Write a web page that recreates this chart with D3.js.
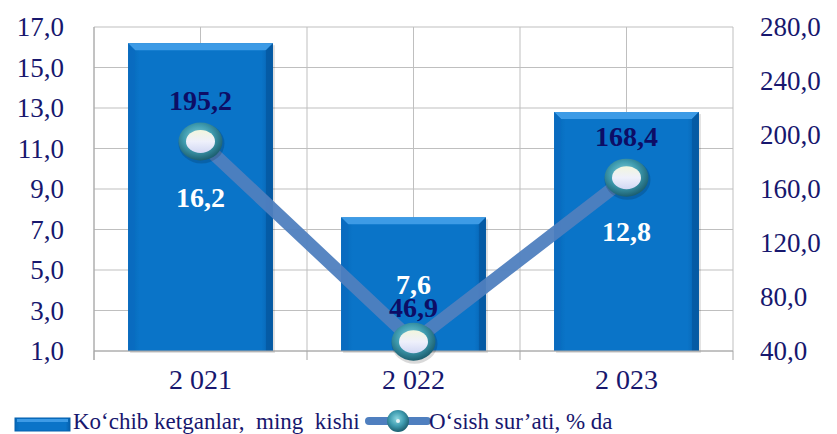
<!DOCTYPE html>
<html><head><meta charset="utf-8">
<script src="https://cdn.jsdelivr.net/npm/d3@7"></script>
<style>html,body{margin:0;padding:0;background:#fff;} svg{display:block;}</style>
</head><body>
<svg id="chart" width="837" height="434"></svg>
<script>
const categories = ["2 021", "2 022", "2 023"];
const barValues = [16.2, 7.6, 12.8];
const lineValues = [195.2, 46.9, 168.4];
const leftTicks = [1, 3, 5, 7, 9, 11, 13, 15, 17];
const rightTicks = [40, 80, 120, 160, 200, 240, 280];
const barSeriesName = "Ko‘chib ketganlar,  ming  kishi";
const lineSeriesName = "O‘sish sur’ati, % da";

const fmt = v => d3.format(".1f")(v).replace(".", ",");
const svg = d3.select("#chart");
const m = {left: 94, right: 733, top: 27, bottom: 351};
const x = d3.scaleBand().domain(categories).range([m.left, m.right]).paddingInner(0).paddingOuter(0);
const yL = d3.scaleLinear().domain([1, 17]).range([m.bottom, m.top]);
const yR = d3.scaleLinear().domain([40, 280]).range([m.bottom, m.top]);
const navy = "#17176e";
const serif = "'Liberation Serif','Times New Roman',serif";

const defs = svg.append("defs");
const bg = defs.append("linearGradient").attr("id", "barG").attr("x1", 0).attr("x2", 1).attr("y1", 0).attr("y2", 0);
bg.append("stop").attr("offset", 0).attr("stop-color", "#0668b8");
bg.append("stop").attr("offset", 0.08).attr("stop-color", "#0a74c8");
bg.append("stop").attr("offset", 0.92).attr("stop-color", "#0a74c8");
bg.append("stop").attr("offset", 1).attr("stop-color", "#0660ad");
const mg = defs.append("radialGradient").attr("id", "markG").attr("cx", 0.45).attr("cy", 0.4).attr("r", 0.6);
mg.append("stop").attr("offset", 0).attr("stop-color", "#8ad6e0");
mg.append("stop").attr("offset", 0.55).attr("stop-color", "#3f9cb0");
mg.append("stop").attr("offset", 1).attr("stop-color", "#1c5f70");
const ig = defs.append("linearGradient").attr("id", "innerG").attr("x1", 0).attr("x2", 0).attr("y1", 0).attr("y2", 1);
ig.append("stop").attr("offset", 0).attr("stop-color", "#f2f6de");
ig.append("stop").attr("offset", 0.5).attr("stop-color", "#eef0fb");
ig.append("stop").attr("offset", 1).attr("stop-color", "#d2d8f4");

// gridlines
const grid = svg.append("g");
grid.selectAll("line.h").data(leftTicks).join("line")
  .attr("x1", m.left).attr("x2", m.right)
  .attr("y1", d => yL(d)).attr("y2", d => yL(d))
  .attr("stroke", "#bfbfbf").attr("stroke-width", 1);
const vPos = [];
categories.forEach(c => { vPos.push(x(c)); vPos.push(x(c) + x.bandwidth() / 2); });
vPos.push(m.right);
grid.selectAll("line.v").data(vPos).join("line")
  .attr("x1", d => d).attr("x2", d => d)
  .attr("y1", m.top).attr("y2", m.bottom)
  .attr("stroke", "#bfbfbf").attr("stroke-width", 1);
grid.selectAll("line.t").data(categories.map(c => x(c)).concat([m.right])).join("line")
  .attr("x1", d => d).attr("x2", d => d)
  .attr("y1", m.bottom).attr("y2", m.bottom + 9)
  .attr("stroke", "#a6a6a6");

// bars
const bw = x.bandwidth() * 0.68;
const bars = svg.append("g");
categories.forEach((c, i) => {
  const x0 = x(c) + (x.bandwidth() - bw) / 2;
  const y0 = yL(barValues[i]);
  const h = yL(1) - y0;
  const g = bars.append("g");
  g.append("rect").attr("x", x0 + 2).attr("y", y0 + 2).attr("width", bw).attr("height", h)
    .attr("fill", "#000").attr("opacity", 0.12);
  g.append("rect").attr("x", x0).attr("y", y0).attr("width", bw).attr("height", h).attr("fill", "url(#barG)");
  const bev = 7;
  g.append("path").attr("d", `M${x0},${y0}L${x0 + bw},${y0}L${x0 + bw - bev},${y0 + bev}L${x0 + bev},${y0 + bev}Z`)
    .attr("fill", "#3d9be6");
  g.append("path").attr("d", `M${x0},${y0}L${x0 + bev},${y0 + bev}L${x0 + bev},${y0 + h}L${x0},${y0 + h}Z`)
    .attr("fill", "#0a6cc0").attr("opacity", 0.8);
  g.append("path").attr("d", `M${x0 + bw},${y0}L${x0 + bw - bev},${y0 + bev}L${x0 + bw - bev},${y0 + h}L${x0 + bw},${y0 + h}Z`)
    .attr("fill", "#0558a0").attr("opacity", 0.8);
});

// baseline
svg.append("line").attr("x1", m.left).attr("x2", m.right).attr("y1", m.bottom).attr("y2", m.bottom)
  .attr("stroke", "#a6a6a6");
svg.append("line").attr("x1", m.left).attr("x2", m.left).attr("y1", m.top).attr("y2", m.bottom + 9)
  .attr("stroke", "#a6a6a6");

// line
const cx = c => x(c) + x.bandwidth() / 2;
const lineGen = d3.line().x((d, i) => cx(categories[i])).y(d => yR(d));
svg.append("path").datum(lineValues).attr("d", lineGen)
  .attr("fill", "none").attr("stroke", "#4f7fbf").attr("stroke-width", 13).attr("opacity", 0.95);

// markers
function marker(g, px, py) {
  g.append("ellipse").attr("cx", px + 1).attr("cy", py + 2).attr("rx", 23).attr("ry", 20).attr("fill", "#000").attr("opacity", 0.15);
  g.append("ellipse").attr("cx", px).attr("cy", py).attr("rx", 22).attr("ry", 19).attr("fill", "url(#markG)");
  g.append("ellipse").attr("cx", px).attr("cy", py).attr("rx", 14.5).attr("ry", 11.5).attr("fill", "url(#innerG)");
}
const mk = svg.append("g");
lineValues.forEach((v, i) => marker(mk, cx(categories[i]), yR(v)));

// bar labels
svg.append("g").selectAll("text").data(barValues).join("text")
  .attr("x", (d, i) => cx(categories[i]))
  .attr("y", d => (yL(d) + yL(1)) / 2)
  .attr("dy", "0.35em").attr("text-anchor", "middle")
  .attr("font-family", serif).attr("font-weight", "bold").attr("font-size", 28)
  .attr("fill", "#fff").text(d => fmt(d));

// line labels
svg.append("g").selectAll("text").data(lineValues).join("text")
  .attr("x", (d, i) => cx(categories[i]))
  .attr("y", (d, i) => yR(d) - (i === 1 ? 34 : 41))
  .attr("dy", "0.35em").attr("text-anchor", "middle")
  .attr("font-family", serif).attr("font-weight", "bold").attr("font-size", 28)
  .attr("fill", "#0d0d66").text(d => fmt(d));

// axes
const axL = svg.append("g").attr("transform", `translate(${m.left},0)`)
  .call(d3.axisLeft(yL).tickValues(leftTicks).tickFormat(fmt).tickSize(0).tickPadding(30));
const axR = svg.append("g").attr("transform", `translate(${m.right},0)`)
  .call(d3.axisRight(yR).tickValues(rightTicks).tickFormat(fmt).tickSize(0).tickPadding(27));
const axB = svg.append("g").attr("transform", `translate(0,${m.bottom})`)
  .call(d3.axisBottom(x).tickSize(0).tickPadding(18));
[axL, axR, axB].forEach(a => {
  a.select(".domain").remove();
  a.selectAll("text").attr("font-family", serif).attr("font-size", 27).attr("fill", navy);
});
axB.selectAll("text").attr("font-size", 28);

// legend
const lg = svg.append("g");
lg.append("rect").attr("x", 15).attr("y", 418).attr("width", 55).attr("height", 13)
  .attr("fill", "url(#barG)").attr("stroke", "#0660ad").attr("stroke-width", 1);
lg.append("rect").attr("x", 17).attr("y", 419).attr("width", 51).attr("height", 3).attr("fill", "#3d9be6");
lg.append("text").attr("x", 73).attr("y", 429).attr("font-family", serif).attr("font-size", 23)
  .attr("fill", navy).attr("xml:space", "preserve").style("white-space", "pre").text(barSeriesName);
lg.append("line").attr("x1", 369).attr("x2", 427).attr("y1", 421).attr("y2", 421)
  .attr("stroke", "#4f7fbf").attr("stroke-width", 8).attr("stroke-linecap", "round");
lg.append("circle").attr("cx", 398).attr("cy", 421).attr("r", 11).attr("fill", "url(#markG)");
lg.append("circle").attr("cx", 398).attr("cy", 421).attr("r", 2).attr("fill", "#e8f4f6");
lg.append("text").attr("x", 429).attr("y", 429).attr("font-family", serif).attr("font-size", 23)
  .attr("fill", navy).text(lineSeriesName);
</script>
</body></html>
